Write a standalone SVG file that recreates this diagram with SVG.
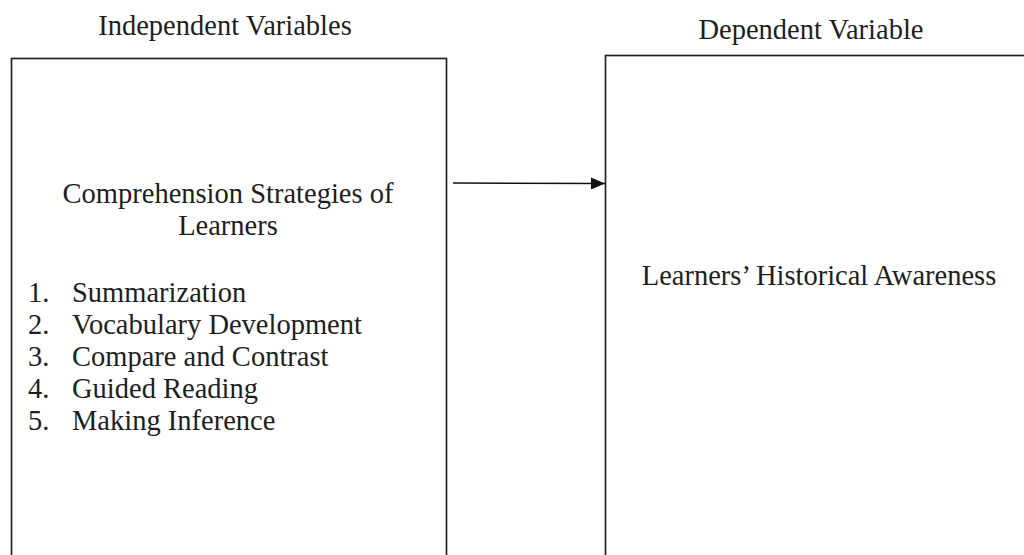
<svg xmlns="http://www.w3.org/2000/svg" width="1024" height="555" viewBox="0 0 1024 555">
<style>
text{font-family:"Liberation Serif","Times New Roman",serif;font-size:28.5px;fill:#1e1e1e}
.box{fill:none;stroke:#222;stroke-width:1.7}
.conn{stroke:#111;stroke-width:1.5;fill:none}
</style>
<defs>
<marker id="ah" markerWidth="14" markerHeight="12" refX="14" refY="6" orient="auto" markerUnits="userSpaceOnUse">
<path d="M0,0 L14,6 L0,12 Z" fill="#111"/>
</marker>
</defs>
<rect width="1024" height="555" fill="#fff"/>
<g id="header-left"><text x="225" y="35" text-anchor="middle">Independent Variables</text></g>
<g id="header-right"><text x="811" y="39" text-anchor="middle">Dependent Variable</text></g>
<g id="independent">
<rect class="box" x="11.5" y="58.5" width="435" height="520"/>
<text x="228" y="203" text-anchor="middle">Comprehension Strategies of</text>
<text x="228" y="235" text-anchor="middle">Learners</text>
<text x="28" y="302">1.</text><text x="72" y="302">Summarization</text>
<text x="28" y="334">2.</text><text x="72" y="334">Vocabulary Development</text>
<text x="28" y="366">3.</text><text x="72" y="366">Compare and Contrast</text>
<text x="28" y="398">4.</text><text x="72" y="398">Guided Reading</text>
<text x="28" y="430">5.</text><text x="72" y="430">Making Inference</text>
</g>
<g id="dependent">
<rect class="box" x="605.5" y="55.5" width="440" height="520"/>
<text x="819" y="285" text-anchor="middle">Learners’ Historical Awareness</text>
</g>
<g id="connectors">
<line class="conn" x1="453" y1="183" x2="605" y2="183.5" marker-end="url(#ah)"/>
</g>
</svg>
